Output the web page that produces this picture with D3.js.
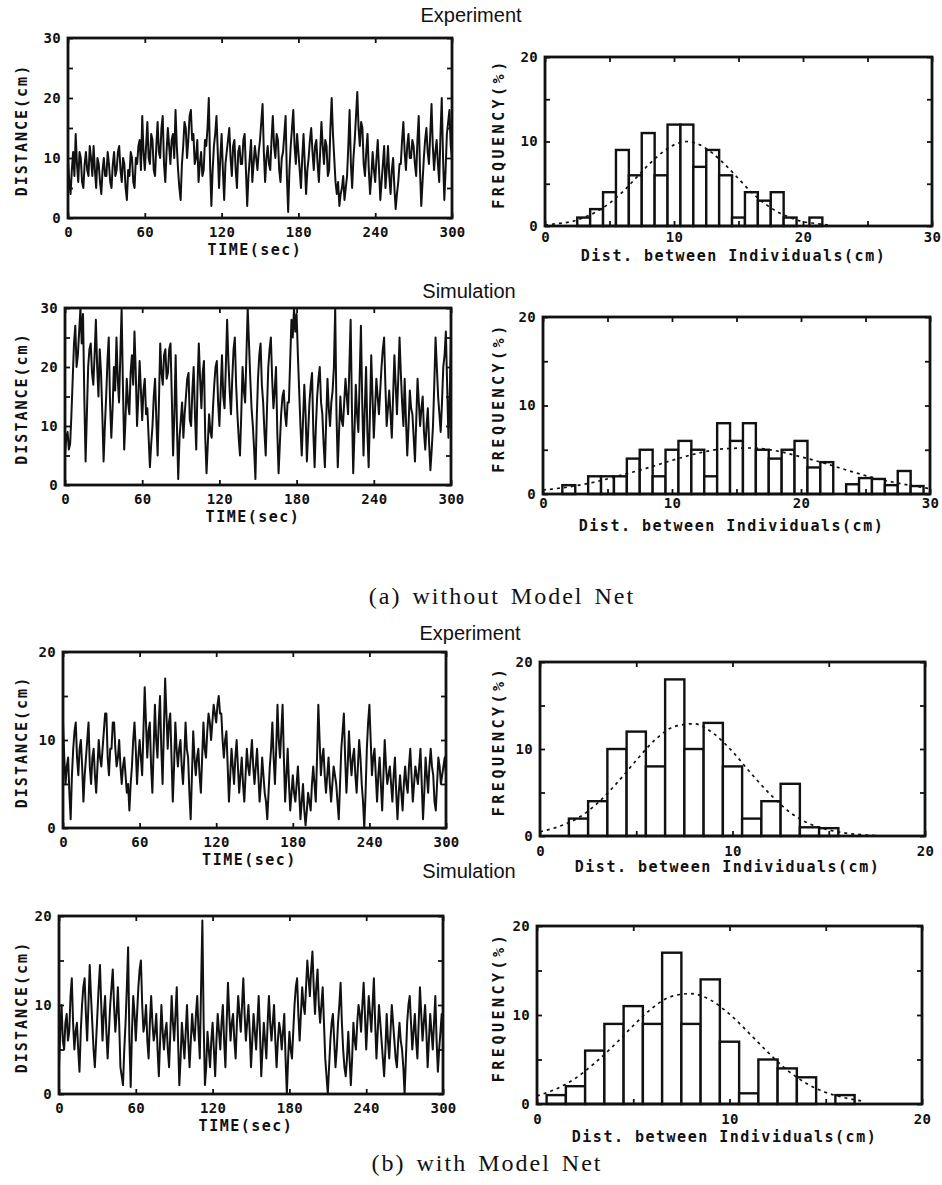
<!DOCTYPE html>
<html>
<head>
<meta charset="utf-8">
<script src="https://cdn.jsdelivr.net/npm/d3@7"></script>
<style>
body { margin: 0; background: #fff; }
svg { display: block; }
.tk text { font-family: "DejaVu Sans Mono", monospace; font-weight: bold; font-size: 14px; letter-spacing: 0.3px; fill: #111; }
.tk line { stroke: #111; stroke-width: 1.8; }
.axt { font-family: "DejaVu Sans Mono", monospace; font-weight: bold; font-size: 15px; fill: #111; letter-spacing: 1.5px; }
.ttl { font-family: "Liberation Sans", Arial, sans-serif; font-size: 20px; fill: #111; }
.cap { font-family: "Liberation Serif", "Times New Roman", serif; font-size: 24px; fill: #111; letter-spacing: 2px; word-spacing: 3px; }
</style>
</head>
<body>
<script>
// sampling interval of the distance traces (sec)
var timeStep = 1;

// (a) without model net -- distance traces, one row = 30 s
var distExpA = [
  10, 6, 4, 8, 11, 7, 14, 9, 6, 11, 10, 6, 5, 9, 11, 8, 7, 12, 10, 7, 12, 8, 5, 10, 9, 6, 4, 8, 10, 7,
  7, 11, 9, 6, 5, 9, 11, 7, 8, 11, 12, 8, 6, 10, 9, 5, 3, 8, 7, 11, 10, 6, 5, 10, 9, 12, 13, 8, 17, 11,
  8, 12, 16, 10, 9, 14, 13, 8, 7, 12, 16, 11, 10, 15, 17, 9, 6, 11, 15, 12, 9, 13, 14, 10, 18, 12, 8, 5, 3, 9,
  12, 16, 15, 10, 13, 17, 18, 13, 14, 9, 10, 13, 6, 9, 11, 7, 8, 13, 12, 15, 20, 9, 2, 8, 12, 14, 17, 11, 5, 10,
  14, 8, 3, 9, 11, 13, 15, 10, 7, 12, 13, 8, 5, 11, 12, 9, 9, 13, 14, 8, 2, 7, 10, 13, 6, 9, 12, 10, 8, 11,
  13, 16, 19, 11, 6, 10, 12, 9, 8, 13, 17, 12, 10, 14, 13, 8, 6, 10, 11, 14, 17, 7, 1, 8, 12, 15, 18, 12, 9, 14,
  11, 8, 5, 10, 14, 9, 4, 8, 10, 13, 15, 11, 8, 12, 13, 9, 6, 11, 16, 12, 9, 13, 12, 7, 8, 15, 20, 14, 10, 6,
  4, 6, 2, 4, 5, 7, 3, 5, 7, 12, 18, 9, 5, 10, 13, 17, 21, 15, 12, 16, 15, 9, 7, 11, 14, 8, 4, 7, 11, 8,
  6, 10, 13, 8, 3, 6, 9, 12, 5, 8, 12, 7, 4, 8, 10, 5, 1.5, 4, 6, 9, 9, 13, 16, 11, 8, 12, 14, 10, 10, 13,
  12, 9, 7, 13, 17, 8, 2, 6, 10, 13, 15, 11, 9, 14, 19, 12, 8, 11, 13, 9, 6, 14, 20, 10, 3, 8, 14, 16, 18, 12,
  10
];
var distSimA = [
  5, 8, 9, 6, 7, 12, 18, 24, 27, 20, 22, 26, 30, 24, 29, 15, 4, 12, 20, 23, 24, 19, 17, 22, 28, 20, 15, 23, 19, 12,
  4, 10, 15, 21, 25, 14, 8, 13, 20, 16, 25, 18, 14, 22, 30, 17, 6, 11, 18, 14, 12, 19, 22, 17, 26, 19, 10, 15, 21, 16,
  11, 16, 18, 12, 13, 8, 3, 7, 10, 15, 18, 11, 5, 14, 24, 19, 17, 22, 23, 18, 19, 23, 24, 15, 5, 12, 22, 10, 1, 8,
  11, 14, 8, 12, 15, 18, 19, 11, 10, 16, 20, 12, 6, 17, 24, 18, 13, 19, 21, 8, 2, 7, 12, 9, 8, 13, 17, 20, 21, 14,
  10, 16, 22, 15, 13, 20, 28, 21, 16, 12, 18, 23, 25, 17, 12, 8, 5, 12, 20, 16, 14, 22, 30, 24, 18, 13, 10, 6, 1, 11,
  18, 22, 24, 17, 14, 9, 5, 13, 20, 23, 25, 18, 13, 16, 20, 9, 2, 7, 12, 15, 16, 12, 10, 14, 14, 21, 28, 25, 30, 26,
  29, 22, 16, 10, 5, 11, 17, 12, 4, 9, 14, 17, 19, 9, 3, 10, 15, 18, 20, 14, 12, 7, 3, 11, 18, 13, 10, 14, 16, 20,
  30, 12, 3, 9, 15, 11, 10, 14, 18, 15, 12, 20, 28, 13, 2, 9, 17, 12, 9, 18, 27, 14, 5, 13, 20, 9, 3, 12, 22, 15,
  8, 13, 18, 15, 12, 16, 20, 23, 25, 17, 10, 13, 16, 12, 8, 15, 22, 17, 12, 18, 25, 19, 14, 10, 18, 11, 5, 10, 16, 13,
  12, 8, 4, 11, 18, 14, 10, 13, 15, 9, 6, 10, 13, 7, 2.5, 6, 10, 17, 25, 20, 15, 12, 9, 14, 20, 22, 26, 17, 8, 15,
  25
];

// (b) with model net -- distance traces
var distExpB = [
  12, 8, 5, 7, 8, 4, 1, 6, 9, 11, 12, 8, 6, 9, 10, 7, 3, 6, 8, 10, 12, 7, 5, 8, 9, 6, 4, 7, 10, 8,
  7, 9, 11, 13, 13, 8, 6, 9, 9, 12, 12, 9, 7, 8, 10, 7, 5, 7, 8, 6, 4, 5, 2, 5, 7, 10, 12, 9, 5, 8,
  10, 8, 6, 11, 16, 12, 8, 11, 12, 7, 4, 9, 14, 10, 8, 12, 15, 9, 5, 11, 17, 13, 9, 12, 13, 8, 3, 7, 12, 9,
  7, 9, 10, 7, 5, 8, 12, 9, 8, 4, 1, 6, 11, 8, 6, 8, 9, 6, 4, 8, 12, 9, 8, 11, 13, 12, 10, 12, 14, 13,
  12, 14, 15, 13, 13, 10, 8, 10, 11, 7, 3, 6, 9, 7, 5, 8, 10, 7, 4, 6, 8, 5, 3, 6, 9, 7, 6, 8, 10, 7,
  5, 7, 9, 6, 3, 5, 8, 6, 4, 3, 1, 4, 7, 9, 12, 8, 5, 9, 14, 10, 8, 11, 14, 8, 3, 6, 9, 5, 2, 4,
  6, 4, 3, 5, 7, 4, 1, 3, 5, 2, 0.3, 2, 4, 3, 2, 5, 7, 5, 3, 8, 14, 10, 6, 8, 9, 6, 4, 6, 8, 5,
  3, 5, 7, 6, 5, 3, 1, 5, 9, 11, 13, 8, 4, 7, 11, 8, 6, 8, 9, 6, 4, 7, 10, 8, 5, 3, 0, 4, 9, 12,
  14, 10, 6, 8, 9, 6, 3, 6, 8, 5, 2, 6, 10, 7, 5, 6, 7, 5, 3, 6, 8, 4, 1, 4, 6, 4, 2, 5, 7, 5,
  4, 7, 9, 6, 3, 5, 7, 6, 5, 7, 9, 5, 1, 4, 8, 6, 4, 7, 9, 7, 6, 3, 2, 5, 8, 7, 5, 6, 7, 8,
  6
];
var distSimB = [
  3, 7, 10, 6, 5, 8, 9, 6, 7, 11, 13, 8, 5, 7, 8, 5, 2.5, 7, 10, 12, 13, 9, 6, 10, 14.5, 11, 8, 5, 3, 6,
  9, 12, 14.5, 10, 6, 9, 11, 7, 4, 7, 10, 12, 14, 10, 7, 9, 12, 8, 3, 2, 1, 5, 8, 12, 16.5, 6, 0.8, 7, 11, 9,
  6, 9, 12, 14, 15, 10, 7, 8, 10, 6, 4, 8, 11, 8, 6, 7, 9, 5, 2, 6, 10, 7, 5, 7, 8, 5, 3, 7, 11, 8,
  6, 9, 12, 6, 1, 4, 8, 6, 4, 7, 10, 6, 3, 6, 9, 7, 6, 9, 11, 7, 4, 12, 19.5, 8, 1, 3, 7, 5, 3, 6,
  8, 5, 2, 6, 9, 7, 5, 8, 10, 6, 3, 8, 12.5, 9, 6, 8, 9, 6, 4, 8, 11, 9, 7, 10, 13, 9, 6, 8, 10, 7,
  3, 6, 9, 7, 5, 8, 11, 7, 2, 5, 8, 6, 4, 8, 11, 8, 6, 8, 10, 6, 3, 6, 8, 7, 5, 7, 9, 4, 0, 4,
  7, 5, 4, 7, 10, 12, 13, 9, 6, 9, 12, 10, 9, 12, 15, 13, 11, 14, 16, 12, 9, 12, 14, 10, 8, 10, 12, 8, 4, 2,
  0, 3, 6, 8, 9, 6, 3, 5, 8, 10, 12.5, 8, 5, 3, 2, 4, 7, 4, 1, 4, 8, 6, 5, 8, 10, 9, 7, 10, 12.5, 9,
  5, 8, 11, 9, 7, 10, 13, 8, 4, 7, 10, 8, 6, 4, 2, 5, 9, 6, 4, 7, 10, 8, 6, 4, 3, 6, 8, 6, 5, 3,
  0, 4, 8, 10, 11, 8, 5, 7, 9, 6, 4, 8, 12, 9, 6, 8, 10, 7, 3, 6, 9, 7, 5, 8, 11, 6, 2.5, 5, 7, 9,
  6
];

// histograms: bin centres (cm) and frequency (%)
var binsExpA = [3, 4, 5, 6, 7, 8, 9, 10, 11, 12, 13, 14, 15, 16, 17, 18, 19, 21];
var freqExpA = [1, 2, 4, 9, 6, 11, 6, 12, 12, 7, 9, 6, 1, 4, 3, 4, 1, 1];
var binsSimA = [2, 4, 5, 6, 7, 8, 9, 10, 11, 12, 13, 14, 15, 16, 17, 18, 19, 20, 21, 22, 24, 25, 26, 27, 28, 29];
var freqSimA = [1, 2, 2, 2, 4, 5, 2, 5, 6, 5, 2, 8, 6, 8, 5, 4, 5, 6, 3, 3.6, 1.1, 1.8, 1.7, 1, 2.6, 0.9];
var binsExpB = [2, 3, 4, 5, 6, 7, 8, 9, 10, 11, 12, 13, 14, 15];
var freqExpB = [2, 4, 10, 12, 8, 18, 10, 13, 8, 2, 4, 6, 1, 0.9];
var binsSimB = [1, 2, 3, 4, 5, 6, 7, 8, 9, 10, 11, 12, 13, 14, 16];
var freqSimB = [1, 2, 6, 9, 11, 9, 17, 9, 14, 7, 1.2, 5, 4, 3, 1];

// fitted curves (dotted)
var fitXExpA = [0, 1, 2, 3, 4, 5, 6, 7, 8, 9, 10, 11, 12, 13, 14, 15, 16, 17, 18, 19, 20, 21, 22];
var fitYExpA = [0.1, 0.3, 0.5, 1.0, 1.7, 2.7, 4.0, 5.6, 7.2, 8.6, 9.6, 10.0, 9.6, 8.6, 7.2, 5.6, 4.0, 2.7, 1.7, 1.0, 0.5, 0.3, 0.1];
var fitXSimA = [0, 2, 4, 6, 8, 10, 12, 14, 16, 18, 20, 22, 24, 26, 28, 30];
var fitYSimA = [0.45, 0.8, 1.35, 2.1, 2.9, 3.8, 4.6, 5.1, 5.2, 4.9, 4.2, 3.4, 2.5, 1.7, 1.1, 0.6];
var fitXExpB = [0, 1, 2, 3, 4, 5, 6, 7, 8, 9, 10, 11, 12, 13, 14, 15, 16, 17, 18];
var fitYExpB = [0.5, 1.1, 2.1, 3.8, 6.1, 8.7, 11.1, 12.6, 12.9, 11.8, 9.7, 7.1, 4.7, 2.7, 1.4, 0.7, 0.3, 0.1, 0];
var fitXSimB = [0, 1, 2, 3, 4, 5, 6, 7, 8, 9, 10, 11, 12, 13, 14, 15, 16, 17];
var fitYSimB = [0.9, 1.7, 2.9, 4.6, 6.6, 8.8, 10.8, 12.1, 12.4, 11.7, 10.1, 8.0, 5.8, 3.8, 2.3, 1.3, 0.7, 0.3];

var timeTicks = [0, 60, 120, 180, 240, 300];

var svg = d3.select("body").append("svg")
    .attr("width", 942)
    .attr("height", 1185);

function frame(p, x, y) {
  // inward ticks on all four sides
  var xs = d3.range(p.xDomain[0], p.xDomain[1] + 0.001, p.xMinor);
  var ys = d3.range(p.yDomain[0], p.yDomain[1] + 0.001, p.yMinor);

  svg.append("g").attr("class", "tk")
      .attr("transform", "translate(0," + p.bottom + ")")
      .call(d3.axisBottom(x).tickValues(xs).tickSize(-5).tickFormat(""));
  svg.append("g").attr("class", "tk")
      .attr("transform", "translate(0," + p.top + ")")
      .call(d3.axisTop(x).tickValues(xs).tickSize(-5).tickFormat(""));
  svg.append("g").attr("class", "tk")
      .attr("transform", "translate(" + p.left + ",0)")
      .call(d3.axisLeft(y).tickValues(ys).tickSize(-5).tickFormat(""));
  svg.append("g").attr("class", "tk")
      .attr("transform", "translate(" + p.right + ",0)")
      .call(d3.axisRight(y).tickValues(ys).tickSize(-5).tickFormat(""));

  // labels
  svg.append("g").attr("class", "tk")
      .attr("transform", "translate(0," + p.bottom + ")")
      .call(d3.axisBottom(x).tickValues(p.xMajor).tickSize(0).tickPadding(p.xPad).tickFormat(d3.format("d")))
      .attr("font-family", null).attr("font-size", null);
  svg.append("g").attr("class", "tk")
      .attr("transform", "translate(" + p.left + ",0)")
      .call(d3.axisLeft(y).tickValues(p.yMajor).tickSize(0).tickPadding(7).tickFormat(d3.format("d")))
      .attr("font-family", null).attr("font-size", null);
  svg.selectAll(".tk .domain").remove();

  svg.append("rect")
      .attr("x", p.left).attr("y", p.top)
      .attr("width", p.right - p.left).attr("height", p.bottom - p.top)
      .attr("fill", "none").attr("stroke", "#111").attr("stroke-width", 2.8);

  svg.append("text").attr("class", "axt")
      .attr("x", (p.left + p.right) / 2 - 5).attr("y", p.bottom + p.xTitleOff)
      .attr("text-anchor", "middle").attr("dominant-baseline", "central")
      .text(p.xTitle);
  svg.append("text").attr("class", "axt")
      .attr("text-anchor", "middle").attr("dominant-baseline", "central")
      .attr("transform", "translate(" + p.yTitleX + "," + ((p.top + p.bottom) / 2 + p.yTitleOff) + ") rotate(-90)")
      .style("letter-spacing", p.yTitleSpace)
      .text(p.yTitle);
}

function tracePanel(p, values) {
  var x = d3.scaleLinear().domain(p.xDomain).range([p.left, p.right]);
  var y = d3.scaleLinear().domain(p.yDomain).range([p.bottom, p.top]);

  var line = d3.line()
      .x(function(d, i) { return x(i * timeStep); })
      .y(function(d) { return y(d); });

  svg.append("path")
      .datum(values)
      .attr("fill", "none")
      .attr("stroke", "#111")
      .attr("stroke-width", 2)
      .attr("stroke-linejoin", "round")
      .attr("d", line);

  frame(p, x, y);
}

function histPanel(p, bins, freq, fitX, fitY) {
  var x = d3.scaleLinear().domain(p.xDomain).range([p.left, p.right]);
  var y = d3.scaleLinear().domain(p.yDomain).range([p.bottom, p.top]);

  svg.selectAll(null)
      .data(bins)
    .enter().append("rect")
      .attr("x", function(d) { return x(d - 0.5); })
      .attr("width", function(d) { return x(d + 0.5) - x(d - 0.5); })
      .attr("y", function(d, i) { return y(freq[i]); })
      .attr("height", function(d, i) { return p.bottom - y(freq[i]); })
      .attr("fill", "#fff")
      .attr("stroke", "#111")
      .attr("stroke-width", 2.4);

  var fit = d3.line()
      .curve(d3.curveMonotoneX)
      .x(function(d) { return x(d); })
      .y(function(d, i) { return y(fitY[i]); });

  svg.append("path")
      .datum(fitX)
      .attr("fill", "none")
      .attr("stroke", "#111")
      .attr("stroke-width", 1.7)
      .attr("stroke-dasharray", "3,4")
      .attr("d", fit);

  frame(p, x, y);
}

function tracePanelOpts(left, right, top, bottom, yMax) {
  return {
    left: left, right: right, top: top, bottom: bottom,
    xDomain: [0, 300], yDomain: [0, yMax],
    xMinor: 60, yMinor: 5,
    xMajor: timeTicks, yMajor: d3.range(0, yMax + 1, 10),
    xPad: 9, xTitle: "TIME(sec)", xTitleOff: 32,
    yTitle: "DISTANCE(cm)", yTitleX: 22, yTitleOff: 2, yTitleSpace: "2px"
  };
}

function histPanelOpts(left, right, top, bottom, xMax, xPad, xTitleOff) {
  return {
    left: left, right: right, top: top, bottom: bottom,
    xDomain: [0, xMax], yDomain: [0, 20],
    xMinor: 5, yMinor: 5,
    xMajor: d3.range(0, xMax + 1, 10), yMajor: [0, 10, 20],
    xPad: xPad, xTitle: "Dist. between Individuals(cm)", xTitleOff: xTitleOff,
    yTitle: "FREQUENCY(%)", yTitleX: 499, yTitleOff: -8, yTitleSpace: "3.5px"
  };
}

// (a) without Model Net
tracePanel(tracePanelOpts(68, 452, 38, 218, 30), distExpA);
histPanel(histPanelOpts(545, 932, 57, 226, 30, 6, 30), binsExpA, freqExpA, fitXExpA, fitYExpA);
tracePanel(tracePanelOpts(65, 451, 308, 485, 30), distSimA);
histPanel(histPanelOpts(543, 930, 317, 494, 30, 4, 32), binsSimA, freqSimA, fitXSimA, fitYSimA);

// (b) with Model Net
tracePanel(tracePanelOpts(63, 446, 652, 828, 20), distExpB);
histPanel(histPanelOpts(540, 925, 662, 836, 20, 10, 31), binsExpB, freqExpB, fitXExpB, fitYExpB);
tracePanel(tracePanelOpts(59, 443, 916, 1094, 20), distSimB);
histPanel(histPanelOpts(537, 922, 926, 1104, 20, 10, 33), binsSimB, freqSimB, fitXSimB, fitYSimB);

// titles and captions
var titles = [
  {t: "Experiment", x: 471, y: 15},
  {t: "Simulation", x: 469, y: 291},
  {t: "Experiment", x: 470, y: 633},
  {t: "Simulation", x: 469, y: 871}
];
svg.selectAll(".ttl")
    .data(titles)
  .enter().append("text")
    .attr("class", "ttl")
    .attr("x", function(d) { return d.x; })
    .attr("y", function(d) { return d.y; })
    .attr("text-anchor", "middle")
    .attr("dominant-baseline", "central")
    .text(function(d) { return d.t; });

var captions = [
  {t: "(a) without Model Net", x: 502, y: 596},
  {t: "(b) with Model Net", x: 487, y: 1163}
];
svg.selectAll(".cap")
    .data(captions)
  .enter().append("text")
    .attr("class", "cap")
    .attr("x", function(d) { return d.x; })
    .attr("y", function(d) { return d.y; })
    .attr("text-anchor", "middle")
    .attr("dominant-baseline", "central")
    .text(function(d) { return d.t; });
</script>
</body>
</html>
